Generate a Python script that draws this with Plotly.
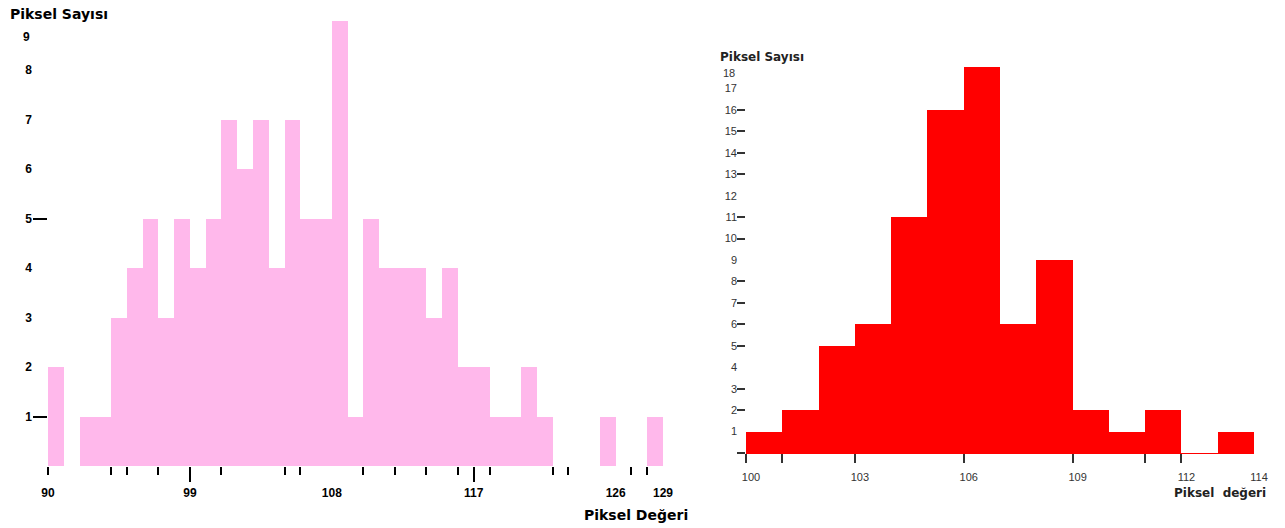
import plotly.graph_objects as go

# Left histogram: pixel values 90..128, one-unit bins
sol_bins = list(range(90, 129))
sol_counts = [2, 0, 1, 1, 3, 4, 5, 3, 5, 4,
              5, 7, 6, 7, 4, 7, 5, 5, 9, 1,
              5, 4, 4, 4, 3, 4, 2, 2, 1, 1,
              2, 1, 0, 0, 0, 1, 0, 0, 1]
sol_xtick_vals = [90, 99, 108, 117, 126, 129]
sol_xtick_text = ["90", "99", "108", "117", "126", "129"]
sol_xticks_short = [90, 94, 95, 97, 101, 105, 106, 110, 112, 114, 116, 118, 122, 123, 127, 128]
sol_xticks_long = [99, 117]
sol_ytick_vals = [1, 2, 3, 4, 5, 6, 7, 8, 9]
sol_yticks_marked = [1, 5]

# Right histogram: pixel values 100..113, one-unit bins
sag_bins = list(range(100, 114))
sag_counts = [1, 2, 5, 6, 11, 16, 18, 6, 9, 2, 1, 2, 0, 1]
sag_xtick_vals = [100, 103, 106, 109, 112, 114]
sag_xtick_text = ["100", "103", "106", "109", "112", "114"]
sag_xticks_marked = [100, 101, 103, 106, 109, 111, 112]
sag_ytick_vals = list(range(1, 19))
sag_yticks_marked = [0, 2, 3, 5, 6, 7, 8, 10, 11, 13, 14, 15, 16]

W, H = 1285, 528


def px_x(p):
    return p / W


def px_y(p):
    return (H - p) / H


fig = go.Figure()

fig.add_trace(go.Bar(
    x=sol_bins, y=sol_counts, width=1, offset=0,
    marker=dict(color="#FFB8EB", line=dict(width=0)),
    xaxis="x", yaxis="y", showlegend=False, hoverinfo="skip",
))
fig.add_trace(go.Bar(
    x=sag_bins, y=sag_counts, width=1, offset=0,
    marker=dict(color="#FF0000", line=dict(width=0)),
    xaxis="x2", yaxis="y2", showlegend=False, hoverinfo="skip",
))
# empty traces so the tick-only overlay axes get drawn
fig.add_trace(go.Scatter(x=[], y=[], xaxis="x3", yaxis="y3", showlegend=False))
fig.add_trace(go.Scatter(x=[], y=[], xaxis="x4", yaxis="y4", showlegend=False))

left_font = dict(family="Liberation Sans", size=12, color="#000000", weight="bold")
right_font = dict(family="Liberation Sans", size=11, color="#333333")

sol_ytop = 9.2
sol_xdom = [px_x(48), px_x(663)]
sol_ydom = [px_y(466), px_y(466 - sol_ytop * 49.5)]
sag_xdom = [px_x(746), px_x(1254)]
sag_ydom = [px_y(453), px_y(67)]

common = dict(showgrid=False, zeroline=False, showline=False,
              fixedrange=True, automargin=False)

fig.update_layout(
    template="none",
    width=W, height=H,
    margin=dict(l=0, r=0, t=0, b=0, pad=0),
    paper_bgcolor="white", plot_bgcolor="rgba(0,0,0,0)",
    bargap=0,
    xaxis=dict(domain=sol_xdom, range=[90, 129], anchor="y",
               tickmode="array", tickvals=sol_xtick_vals, ticktext=sol_xtick_text,
               ticks="", tickfont=left_font, ticklabelstandoff=18, **common),
    # top label of the left count axis is placed separately below
    yaxis=dict(domain=sol_ydom, range=[0, sol_ytop], anchor="x",
               tickmode="array", tickvals=sol_ytick_vals[:-1],
               ticks="", tickfont=left_font, ticklabelstandoff=15, **common),
    xaxis2=dict(domain=sag_xdom, range=[100, 114], anchor="y2",
                tickmode="array", tickvals=sag_xtick_vals, ticktext=sag_xtick_text,
                ticks="", tickfont=right_font, ticklabelstandoff=14, ticklabelshift=5,
                showgrid=False, zeroline=False, fixedrange=True, automargin=False,
                showline=True, linecolor="#FF0000", linewidth=1),
    yaxis2=dict(domain=sag_ydom, range=[0, 18], anchor="x2",
                tickmode="array", tickvals=sag_ytick_vals[:-1],
                ticks="", tickfont=right_font, ticklabelstandoff=8, **common),
    xaxis3=dict(overlaying="x", anchor="y3", range=[90, 129],
                tickmode="array", tickvals=sol_xticks_long, ticks="outside",
                ticklen=15, tickwidth=2, tickcolor="#000000", showticklabels=False,
                minor=dict(tickmode="array", tickvals=sol_xticks_short, ticks="outside",
                           ticklen=8, tickwidth=2, tickcolor="#000000"),
                **common),
    yaxis3=dict(overlaying="y", anchor="x3", range=[0, sol_ytop],
                tickmode="array", tickvals=sol_yticks_marked, ticks="outside",
                ticklen=14, tickwidth=2, tickcolor="#000000", showticklabels=False,
                **common),
    xaxis4=dict(overlaying="x2", anchor="y4", range=[100, 114],
                tickmode="array", tickvals=sag_xticks_marked, ticks="outside",
                ticklen=9, tickwidth=1.5, tickcolor="#333333", showticklabels=False,
                **common),
    yaxis4=dict(overlaying="y2", anchor="x4", range=[0, 18],
                tickmode="array", tickvals=sag_yticks_marked, ticks="outside",
                ticklen=8, tickwidth=1.5, tickcolor="#333333", showticklabels=False,
                **common),
)

title_font_l = dict(family="DejaVu Sans", size=14, color="#000000", weight="bold")
title_font_r = dict(family="DejaVu Sans", size=12, color="#222222", weight="bold")

annotations = [
    dict(text="Piksel Sayısı", x=px_x(8), y=px_y(14), font=title_font_l),
    dict(text="Piksel Değeri", x=px_x(582), y=px_y(515), font=title_font_l),
    dict(text="Piksel Sayısı", x=px_x(718), y=px_y(57), font=title_font_r),
    dict(text="Piksel  değeri", x=px_x(1172), y=px_y(493), font=title_font_r),
]
for a in annotations:
    fig.add_annotation(xref="paper", yref="paper", xanchor="left", yanchor="middle",
                       showarrow=False, **a)

# top count labels, set a little below their tick value to clear the axis titles
fig.add_annotation(text=str(sol_ytick_vals[-1]), xref="paper", x=px_x(32), xanchor="right",
                   yref="y", y=sol_ytick_vals[-1], yanchor="middle", yshift=-16,
                   showarrow=False, font=left_font)
fig.add_annotation(text=str(sag_ytick_vals[-1]), xref="paper", x=px_x(737), xanchor="right",
                   yref="y2", y=sag_ytick_vals[-1], yanchor="middle", yshift=-6,
                   showarrow=False, font=right_font)

fig.write_html("out.html")
